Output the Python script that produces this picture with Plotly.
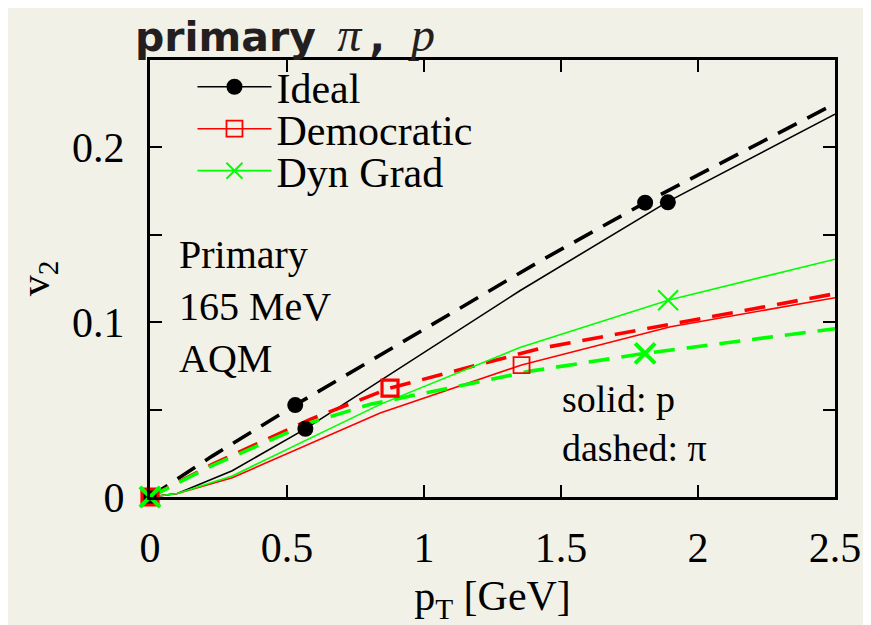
import plotly.graph_objects as go

# ---------------- data ----------------
pt_ideal_p = [0, 0.1, 0.3, 0.567, 1.35, 1.89, 2.5]
v2_ideal_p = [0, 0.002, 0.015, 0.039, 0.118, 0.169, 0.219]
pt_ideal_pi = [0, 0.227, 0.53, 1.424, 1.807, 2.5]
v2_ideal_pi = [0, 0.0234, 0.0526, 0.135, 0.1684, 0.225]

pt_dem_p = [0, 0.1, 0.3, 0.84, 1.356, 1.9, 2.5]
v2_dem_p = [0, 0.002, 0.011, 0.048, 0.0755, 0.0974, 0.114]
pt_dem_pi = [0, 0.227, 0.585, 0.876, 1.424, 2.5]
v2_dem_pi = [0, 0.0186, 0.0444, 0.0623, 0.085, 0.1163]

pt_dg_p = [0, 0.1, 0.3, 0.84, 1.35, 1.891, 2.5]
v2_dg_p = [0, 0.002, 0.012, 0.053, 0.0855, 0.1126, 0.136]
pt_dg_pi = [0, 0.227, 0.585, 0.804, 1.388, 1.807, 2.5]
v2_dg_pi = [0, 0.018, 0.0425, 0.053, 0.072, 0.0822, 0.0963]

# marker positions
mk_ideal_p_x = [0, 0.567, 1.89]
mk_ideal_p_y = [0, 0.039, 0.1686]
mk_ideal_pi_x = [0, 0.53, 1.807]
mk_ideal_pi_y = [0, 0.0526, 0.1684]
mk_dem_p_x = [0, 1.356]
mk_dem_p_y = [0, 0.0755]
mk_dem_pi_x = [0, 0.876]
mk_dem_pi_y = [0, 0.0623]
mk_dg_p_x = [0, 1.891]
mk_dg_p_y = [0, 0.1126]
mk_dg_pi_x = [0, 1.807]
mk_dg_pi_y = [0, 0.0822]

series_names = ["Ideal", "Democratic", "Dyn Grad"]
x_tickvals = [0, 0.5, 1, 1.5, 2, 2.5]
x_ticktext = ["0", "0.5", "1", "1.5", "2", "2.5"]
y_tickvals = [0, 0.05, 0.1, 0.15, 0.2]
y_ticktext = ["0", "", "0.1", "", "0.2"]

# ---------------- styles ----------------
BG = "#f2f1e7"
SERIF = "Liberation Serif"
BLACK = "#000000"
RED = "#ff0000"
GREEN = "#00ff00"
DASH = "21px,12px"
W_SOLID = 1.6
W_DASH = 3.6

# the page places the figure 8px in from the top-left corner
OFF = 8
FIG_W = 871 - OFF
FIG_H = 625 - OFF

fig = go.Figure()

def add_line(x, y, color, dashed):
    fig.add_trace(go.Scatter(
        x=x, y=y, mode="lines", showlegend=False, hoverinfo="skip",
        line=dict(color=color, width=W_DASH if dashed else W_SOLID,
                  dash=DASH if dashed else "solid")))

def add_marks(x, y, color, symbol, size, lw):
    fig.add_trace(go.Scatter(
        x=x, y=y, mode="markers", showlegend=False, hoverinfo="skip",
        cliponaxis=False,
        marker=dict(symbol=symbol, size=size, color=color,
                    line=dict(color=color, width=lw))))

# Ideal
add_line(pt_ideal_pi, v2_ideal_pi, BLACK, True)
add_line(pt_ideal_p, v2_ideal_p, BLACK, False)
# Democratic
add_line(pt_dem_pi, v2_dem_pi, RED, True)
add_line(pt_dem_p, v2_dem_p, RED, False)
# Dyn Grad
add_line(pt_dg_pi, v2_dg_pi, GREEN, True)
add_line(pt_dg_p, v2_dg_p, GREEN, False)

add_marks(mk_ideal_pi_x, mk_ideal_pi_y, BLACK, "circle", 16, 0)
add_marks(mk_ideal_p_x, mk_ideal_p_y, BLACK, "circle", 16, 0)
add_marks(mk_dem_pi_x, mk_dem_pi_y, RED, "square-open", 16, 3.2)
add_marks(mk_dem_p_x, mk_dem_p_y, RED, "square-open", 16, 1.8)
add_marks(mk_dg_pi_x, mk_dg_pi_y, GREEN, "x-thin-open", 20, 4)
add_marks(mk_dg_p_x, mk_dg_p_y, GREEN, "x-thin-open", 20, 2)

# legend entries (one legend box per entry for tight row spacing)
legend_styles = [
    (BLACK, "circle", 0),
    (RED, "square-open", 1.8),
    (GREEN, "x-thin-open", 2),
]
legend_ids = ["legend", "legend2", "legend3"]
for name, (c, sym, lw), lid in zip(series_names, legend_styles, legend_ids):
    fig.add_trace(go.Scatter(
        x=[None], y=[None], mode="lines+markers", name=name, legend=lid,
        line=dict(color=c, width=W_SOLID),
        marker=dict(symbol=sym, size=16, color=c, line=dict(color=c, width=lw))))

fig.add_annotation(
    x=0.097, y=0.109, xref="x", yref="y", xanchor="left", yanchor="middle",
    text="Primary<br>165 MeV<br>AQM", showarrow=False, align="left",
    font=dict(family=SERIF, size=40, color="black"))
fig.add_annotation(
    x=1.495, y=0.042, xref="x", yref="y", xanchor="left", yanchor="middle",
    text="solid: p<br>dashed: π", showarrow=False, align="left",
    font=dict(family=SERIF, size=38, color="black"))

axis_common = dict(
    showline=True, linecolor="black", linewidth=3, mirror="ticks",
    ticks="inside", ticklen=12, tickwidth=2, tickcolor="black",
    showgrid=False, zeroline=False, automargin=False,
    tickfont=dict(family=SERIF, size=42, color="black"),
)

# plot area in page pixels (reference): x 149.5..835, y 60..497.5
PL, PR, PT, PB = 149.5, 835, 60, 497.5
PLOT_H = PB - PT
PLOT_W = PR - PL

def legend_box(py):
    return dict(x=(192 - PL) / PLOT_W, y=(PB - py) / PLOT_H, xanchor="left",
                yanchor="middle", bgcolor="rgba(0,0,0,0)", itemwidth=74,
                font=dict(family=SERIF, size=42, color="black"))

MATH = "font-family:Liberation Serif;font-size:48px"
title_text = (f"<b>primary</b>&nbsp;&#8201;<span style='{MATH}'><i>π</i></span>"
              f"&#8201;<b>,</b>&nbsp;&nbsp;<span style='{MATH}'><i>p</i></span>")

fig.update_layout(
    width=FIG_W, height=FIG_H,
    paper_bgcolor=BG, plot_bgcolor=BG,
    margin=dict(l=PL - OFF, r=871 - PR, t=PT - OFF, b=625 - PB),
    title=dict(
        text=title_text,
        font=dict(family="DejaVu Sans", size=41, color="#231f20"),
        x=(137 - OFF - 2) / FIG_W, xanchor="left", xref="container",
        y=1 - 29 / FIG_H, yanchor="middle"),
    xaxis=dict(range=[0, 2.5], tickvals=x_tickvals, ticktext=x_ticktext,
               ticklabelstandoff=12,
               title=dict(text="p<sub>T</sub> [GeV]", standoff=14,
                          font=dict(family=SERIF, size=42, color="black")),
               **axis_common),
    yaxis=dict(range=[0, 0.25], tickvals=y_tickvals, ticktext=y_ticktext,
               ticklabelstandoff=14,
               title=dict(text="v<sub>2</sub>", standoff=10,
                          font=dict(family=SERIF, size=42, color="black")),
               **axis_common),
    legend=legend_box(87),
    legend2=legend_box(129),
    legend3=legend_box(171),
    showlegend=True,
)

fig.write_html("out.html")
